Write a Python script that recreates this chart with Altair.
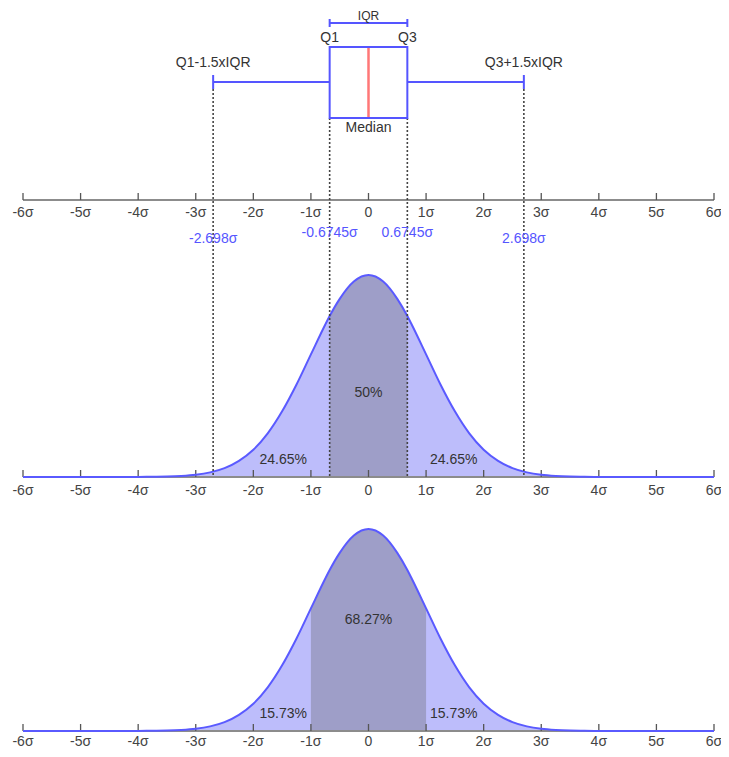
import altair as alt
import pandas as pd

# ---------------- data ----------------
# normal curve: height relative to the peak
CURVE_X = [-6, -5, -4.5, -4, -3.75, -3.5, -3.25, -3, -2.75, -2.5, -2.25, -2, -1.75, -1.5,
           -1.25, -1, -0.75, -0.6745, -0.5, -0.25, 0, 0.25, 0.5, 0.6745, 0.75, 1, 1.25,
           1.5, 1.75, 2, 2.25, 2.5, 2.75, 3, 3.25, 3.5, 3.75, 4, 4.5, 5, 6]
CURVE_H = [0, 0, 0, 0.0003, 0.001, 0.002, 0.005, 0.011, 0.023, 0.044, 0.080, 0.135, 0.216, 0.325,
           0.458, 0.607, 0.755, 0.797, 0.882, 0.969, 1.0, 0.969, 0.882, 0.797, 0.755, 0.607, 0.458,
           0.325, 0.216, 0.135, 0.080, 0.044, 0.023, 0.011, 0.005, 0.002, 0.001, 0.0003, 0, 0, 0]

TICKS = [-6, -5, -4, -3, -2, -1, 0, 1, 2, 3, 4, 5, 6]
TICK_LABELS = ["-6σ", "-5σ", "-4σ", "-3σ", "-2σ", "-1σ", "0", "1σ", "2σ", "3σ", "4σ", "5σ", "6σ"]

Q1, MEDIAN, Q3 = -0.6745, 0.0, 0.6745
LOW_WHISKER, HIGH_WHISKER = -2.698, 2.698
BLUE_LABELS = ["-2.698σ", "-0.6745σ", "0.6745σ", "2.698σ"]
BLUE_X = [LOW_WHISKER, Q1, Q3, HIGH_WHISKER]

PCT1_LABELS = ["24.65%", "50%", "24.65%"]
PCT1_X = [-1.48, 0.0, 1.48]
PCT2_LABELS = ["15.73%", "68.27%", "15.73%"]
PCT2_X = [-1.48, 0.0, 1.48]
SIGMA_BAND = [-1.0, 1.0]

# ---------------- layout (rows from the top of the page) ----------------
W, H = 713, 741
X_DOM = [-6.2605, 6.1216]
Y_DOM = [8, 749]
IQR_TEXT, IQR_ROW, IQR_CAP = 16, 23, 4
Q_TEXT = 38
WHISK_TEXT = 63
BOX_TOP, BOX_BOT = 47, 118
WHISK_ROW, CAP = 82, 7
MED_TEXT = 128
AX1, AX2, AX3 = 200, 477, 731
TICK_LEN = 7
LBL_OFFS = [13, 14, 11]
BLUE_ROW_OUT, BLUE_ROW_IN = 239, 233
PEAK = 202
PCT1_ROWS = [460, 393, 460]
PCT2_ROWS = [714, 620, 714]

BLUE = "#5555ff"
LINE_BLUE = "#5a5aff"
LIGHT = "#bdbdfb"
DARK = "#9e9ec8"
RED = "#ff7777"
GRAY = "#8c8c8c"
TXT = "#333333"
FONT = "Liberation Sans"
FS = 14

xs = alt.Scale(domain=X_DOM, nice=False, zero=False)
ys = alt.Scale(domain=Y_DOM, reverse=True, nice=False, zero=False)


def X(f="x"):
    return alt.X(f, type="quantitative", scale=xs, axis=None)


def Y(f="y"):
    return alt.Y(f, type="quantitative", scale=ys, axis=None)


cdf = pd.DataFrame({"x": CURVE_X, "h": CURVE_H})
cdf["y1"] = AX2 - cdf["h"] * PEAK
cdf["b1"] = AX2
cdf["y2"] = AX3 - cdf["h"] * PEAK
cdf["b2"] = AX3
mid1 = cdf[(cdf.x >= Q1) & (cdf.x <= Q3)]
mid2 = cdf[(cdf.x >= SIGMA_BAND[0]) & (cdf.x <= SIGMA_BAND[1])]

layers = []


def area(df, yf, bf, color):
    return alt.Chart(df).mark_area(color=color, interpolate="monotone").encode(
        x=X(), y=Y(yf), y2=alt.Y2(bf))


layers += [area(cdf, "y1", "b1", LIGHT), area(mid1, "y1", "b1", DARK),
           area(cdf, "y2", "b2", LIGHT), area(mid2, "y2", "b2", DARK)]

# axes
for base, off in zip((AX1, AX2, AX3), LBL_OFFS):
    line_df = pd.DataFrame({"x": [TICKS[0]], "x2": [TICKS[-1]], "y": [base]})
    layers.append(alt.Chart(line_df).mark_rule(color=GRAY, strokeWidth=2).encode(
        x=X(), x2=alt.X2("x2"), y=Y()))
    tick_df = pd.DataFrame({"x": TICKS, "y": [base - TICK_LEN] * len(TICKS), "y2": [base] * len(TICKS)})
    layers.append(alt.Chart(tick_df).mark_rule(color="#555555", strokeWidth=1.3).encode(
        x=X(), y=Y(), y2=alt.Y2("y2")))
    lab_df = pd.DataFrame({"x": TICKS, "y": [base + off] * len(TICKS), "t": TICK_LABELS})
    layers.append(alt.Chart(lab_df).mark_text(font=FONT, fontSize=FS, color="#444444",
                                              baseline="middle", align="center").encode(
        x=X(), y=Y(), text="t:N"))

# curve outlines
for yf in ("y1", "y2"):
    layers.append(alt.Chart(cdf).mark_line(color=LINE_BLUE, strokeWidth=2, interpolate="monotone").encode(
        x=X(), y=Y(yf)))

# dashed guide lines
dash_df = pd.DataFrame({"x": [LOW_WHISKER, Q1, Q3, HIGH_WHISKER],
                        "y": [WHISK_ROW + CAP, BOX_BOT, BOX_BOT, WHISK_ROW + CAP],
                        "y2": [AX2] * 4})
layers.append(alt.Chart(dash_df).mark_rule(color="#444444", strokeWidth=1.6, strokeDash=[2, 2]).encode(
    x=X(), y=Y(), y2=alt.Y2("y2")))

# box plot
box_df = pd.DataFrame({"x": [Q1], "x2": [Q3], "y": [BOX_TOP], "y2": [BOX_BOT]})
layers.append(alt.Chart(box_df).mark_rect(fill="white", stroke=BLUE, strokeWidth=2).encode(
    x=X(), x2=alt.X2("x2"), y=Y(), y2=alt.Y2("y2")))
med_df = pd.DataFrame({"x": [MEDIAN], "y": [BOX_TOP + 1], "y2": [BOX_BOT - 1]})
layers.append(alt.Chart(med_df).mark_rule(color=RED, strokeWidth=2.5).encode(
    x=X(), y=Y(), y2=alt.Y2("y2")))
wh_df = pd.DataFrame({"x": [LOW_WHISKER, Q3], "x2": [Q1, HIGH_WHISKER], "y": [WHISK_ROW] * 2})
layers.append(alt.Chart(wh_df).mark_rule(color=BLUE, strokeWidth=2).encode(
    x=X(), x2=alt.X2("x2"), y=Y()))
cap_df = pd.DataFrame({"x": [LOW_WHISKER, HIGH_WHISKER], "y": [WHISK_ROW - CAP] * 2,
                       "y2": [WHISK_ROW + CAP] * 2})
layers.append(alt.Chart(cap_df).mark_rule(color=BLUE, strokeWidth=2).encode(
    x=X(), y=Y(), y2=alt.Y2("y2")))

# IQR bracket
iqr_df = pd.DataFrame({"x": [Q1], "x2": [Q3], "y": [IQR_ROW]})
layers.append(alt.Chart(iqr_df).mark_rule(color=BLUE, strokeWidth=2).encode(
    x=X(), x2=alt.X2("x2"), y=Y()))
iqr_cap = pd.DataFrame({"x": [Q1, Q3], "y": [IQR_ROW - IQR_CAP] * 2, "y2": [IQR_ROW + IQR_CAP] * 2})
layers.append(alt.Chart(iqr_cap).mark_rule(color=BLUE, strokeWidth=2).encode(
    x=X(), y=Y(), y2=alt.Y2("y2")))


def texts(xv, rows, labels, color, size=FS):
    df = pd.DataFrame({"x": xv, "y": rows, "t": labels})
    return alt.Chart(df).mark_text(font=FONT, fontSize=size, color=color, baseline="middle",
                                   align="center").encode(x=X(), y=Y(), text="t:N")


layers.append(texts([MEDIAN], [IQR_TEXT], ["IQR"], TXT, 12))
layers.append(texts([Q1, Q3], [Q_TEXT, Q_TEXT], ["Q1", "Q3"], TXT))
layers.append(texts([LOW_WHISKER, HIGH_WHISKER], [WHISK_TEXT, WHISK_TEXT],
                    ["Q1-1.5xIQR", "Q3+1.5xIQR"], TXT))
layers.append(texts([MEDIAN], [MED_TEXT], ["Median"], TXT))
layers.append(texts(BLUE_X, [BLUE_ROW_OUT, BLUE_ROW_IN, BLUE_ROW_IN, BLUE_ROW_OUT], BLUE_LABELS, BLUE))
layers.append(texts(PCT1_X, PCT1_ROWS, PCT1_LABELS, TXT))
layers.append(texts(PCT2_X, PCT2_ROWS, PCT2_LABELS, TXT))

chart = alt.layer(*layers).properties(
    width=W, height=H, autosize=alt.AutoSizeParams(type="none"), padding=0, background="white"
).configure_view(stroke=None)

chart.save("out.html", embed_options={"renderer": "svg", "actions": False})
